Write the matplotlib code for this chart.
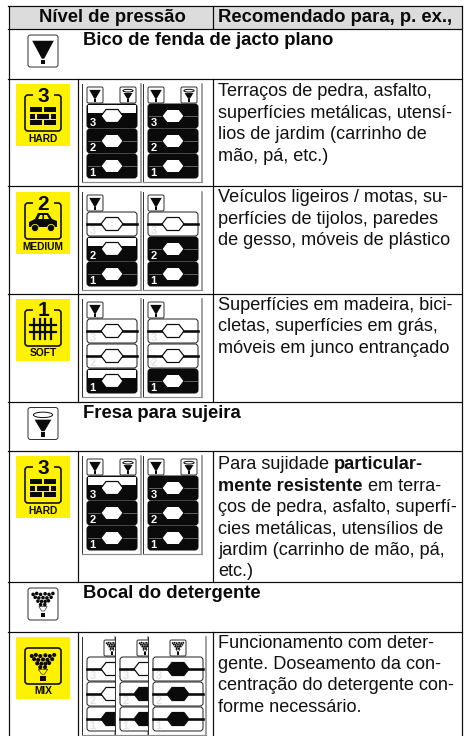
import matplotlib
matplotlib.use("Agg")
import matplotlib.pyplot as plt
from matplotlib.patches import Rectangle, FancyBboxPatch, Polygon, Circle, Ellipse

plt.rcParams['font.family'] = ['Liberation Sans', 'DejaVu Sans']

# table layout, in pixels of the page
W, H = 465, 736
row_edges = [5.5, 29, 79, 186, 294, 401.5, 451, 582, 632, 736]
col_x = [9, 77.5, 213, 462]

header = ["Nível de pressão", "Recomendado para, p. ex.,"]

# section rows: top of row, title, icon
section_tops = [29, 401.5, 582]
section_titles = ["Bico de fenda de jacto plano", "Fresa para sujeira", "Bocal do detergente"]
section_kinds = ["jet", "rotor", "spray"]

# level rows
level_tops = [84, 192, 299, 456, 637]
level_numbers = ["3", "2", "1", "3", ""]
level_names = ["HARD", "MEDIUM", "SOFT", "HARD", "MIX"]
level_art = ["wall", "car", "fence", "wall", "spray"]

# state of the three bars in each small panel, top to bottom
# e = empty, h = half filled, f = full black, s = solid nozzle
panel_states = [
    [["h", "f", "f"], ["f", "f", "f"]],
    [["e", "h", "f"], ["e", "f", "f"]],
    [["e", "e", "h"], ["e", "e", "f"]],
    [["h", "f", "f"], ["f", "f", "f"]],
    [["e", "e", "s"], ["e", "s", "s"], ["s", "s", "s"]],
]

# description text, each line as (text, bold) pieces; first baseline of each block
desc_tops = [96.5, 202.5, 310, 469.3, 647.5]
desc_lines = [
    [[("Terraços de pedra, asfalto,", 0)], [("superfícies metálicas, utensí-", 0)],
     [("lios de jardim (carrinho de", 0)], [("mão, pá, etc.)", 0)]],
    [[("Veículos ligeiros / motas, su-", 0)], [("perfícies de tijolos, paredes", 0)],
     [("de gesso, móveis de plástico", 0)]],
    [[("Superfícies em madeira, bici-", 0)], [("cletas, superfícies em grás,", 0)],
     [("móveis em junco entrançado", 0)]],
    [[("Para sujidade ", 0), ("particular-", 1)], [("mente resistente", 1), (" em terra-", 0)],
     [("ços de pedra, asfalto, superfí-", 0)], [("cies metálicas, utensílios de", 0)],
     [("jardim (carrinho de mão, pá,", 0)], [("etc.)", 0)]],
    [[("Funcionamento com deter-", 0)], [("gente. Doseamento da con-", 0)],
     [("centração do detergente con-", 0)], [("forme necessário.", 0)]],
]

YELLOW = "#fff200"
BLACK = "#0a0a0a"
GREY = "#8c8c8c"
BODY_SIZE = 13.1

# spray dots in unit coordinates of the symbol
spray_dots = [(0.17, 0.2), (0.29, 0.17), (0.42, 0.2), (0.57, 0.18), (0.7, 0.2), (0.83, 0.17),
              (0.24, 0.29), (0.36, 0.31), (0.5, 0.3), (0.63, 0.31), (0.77, 0.29),
              (0.33, 0.41), (0.45, 0.42), (0.57, 0.42), (0.68, 0.4), (0.42, 0.52), (0.56, 0.52)]


def px(w):
    return w * 0.72


fig = plt.figure(figsize=(W / 100, H / 100), dpi=100)
ax = fig.add_axes([0, 0, 1, 1])
ax.set_xlim(0, W)
ax.set_ylim(H, 0)
ax.axis("off")


def round_box(x, y, w, h, r, fc, ec, lw=1.0, z=2):
    p = FancyBboxPatch((x + r, y + r), w - 2 * r, h - 2 * r, boxstyle="round,pad=%f,rounding_size=%f" % (r, r),
                       fc=fc, ec=ec, lw=px(lw), zorder=z)
    ax.add_patch(p)
    return p


def nozzle_symbol(x, y, w, h, kind, z=3, color=BLACK):
    def X(u):
        return x + u * w

    def Y(v):
        return y + v * h

    if kind == "jet":
        ax.add_patch(Polygon([(X(0.14), Y(0.18)), (X(0.86), Y(0.18)), (X(0.54), Y(0.74)), (X(0.46), Y(0.74))],
                             fc=color, ec="none", zorder=z))
        ax.add_patch(Rectangle((X(0.43), Y(0.77)), 0.14 * w, 0.14 * h, fc=color, ec="none", zorder=z))
    elif kind == "rotor":
        ax.add_patch(Polygon([(X(0.22), Y(0.38)), (X(0.78), Y(0.38)), (X(0.55), Y(0.74)), (X(0.45), Y(0.74))],
                             fc=color, ec="none", zorder=z))
        ax.add_patch(Rectangle((X(0.43), Y(0.77)), 0.14 * w, 0.14 * h, fc=color, ec="none", zorder=z))
        ax.add_patch(Ellipse((X(0.5), Y(0.23)), 0.64 * w, 0.17 * h, fc="none", ec=color, lw=0.7, zorder=z))
    else:
        for u, v in spray_dots:
            ax.add_patch(Circle((X(u), Y(v)), 0.06 * w, fc=color, ec="none", zorder=z))
        ax.add_patch(Polygon([(X(0.36), Y(0.58)), (X(0.64), Y(0.58)), (X(0.54), Y(0.72)), (X(0.46), Y(0.72))],
                             fc="none", ec=color, lw=0.4, zorder=z))
        ax.add_patch(Rectangle((X(0.42), Y(0.77)), 0.16 * w, 0.14 * h, fc=color, ec="none", zorder=z))


def nozzle_icon(x, y, w, h, kind, z=3):
    round_box(x, y, w, h, 2.5 if w > 20 else 1.5, "white", "#333333", 1.0, z)
    nozzle_symbol(x, y, w, h, kind, z + 0.1)


def level_bar(x, y, w, h, state, digit, z=3):
    mid = y + h / 2
    hex_pts = [(x + 14, mid), (x + 19, mid - 6.5), (x + 31, mid - 6.5), (x + 36, mid),
               (x + 31, mid + 6.5), (x + 19, mid + 6.5)]
    if state == "f":
        round_box(x, y, w, h, 3, BLACK, BLACK, 1.0, z)
        ax.plot([x + 1, x + w - 1], [mid, mid], color="#777777", lw=px(0.8), zorder=z + 0.1)
        ax.add_patch(Polygon(hex_pts, fc="white", ec=BLACK, lw=px(1), zorder=z + 0.2))
        tc = "white"
    elif state == "h":
        round_box(x, y, w, h, 3, BLACK, BLACK, 1.0, z)
        ax.add_patch(Rectangle((x + 0.8, y + 0.8), w - 1.6, h * 0.36, fc="white", ec="none", zorder=z + 0.05))
        ax.add_patch(Polygon(hex_pts, fc="white", ec=BLACK, lw=px(1.2), zorder=z + 0.2))
        tc = "white"
    else:
        round_box(x, y, w, h, 3, "white", "#222222", 1.0, z)
        ax.plot([x, x + w], [mid, mid], color=BLACK, lw=px(2.6), zorder=z + 0.1)
        fc = BLACK if state == "s" else "white"
        ax.add_patch(Polygon(hex_pts, fc=fc, ec=BLACK, lw=px(1.2), zorder=z + 0.2))
        tc = "#e4e4e4"
    ax.text(x + 5.5, y + h - 5, digit, color=tc, fontsize=8, fontweight="bold", ha="center", va="center",
            zorder=z + 0.3)


def panel(x, top, width, states, icons, icon_dx, bar_dx, z=3):
    bottom = top + 98
    ax.add_patch(Rectangle((x, top), width, 98, fc="white", ec="none", zorder=z - 0.5))
    ax.plot([x, x], [top, bottom], color="#333333", lw=px(1), zorder=z)
    ax.plot([x + width, x + width], [top, bottom], color=GREY, lw=px(1.6), zorder=z)
    ax.plot([x, x + width], [bottom, bottom], color=GREY, lw=px(1.2), zorder=z)
    for kind, dx in zip(icons, icon_dx):
        nozzle_icon(x + dx, top + 3, 16, 16, kind, z)
    for i, st in enumerate(states):
        level_bar(x + bar_dx, top + 20 + i * 25, 50, 24, st, str(3 - i), z)


def yellow_icon(top, number, name, art):
    x, w = 16, 54
    ax.add_patch(Rectangle((x, top), w, 62, fc=YELLOW, ec="none", zorder=2))
    fx0, fx1, fy0, fy1 = 25, 61, top + 11, top + 47
    round_box(fx0, fy0, fx1 - fx0, fy1 - fy0, 3, "none", BLACK, 1.6, 3)
    if number:
        ax.add_patch(Rectangle((33, fy0 - 2), 21, 4, fc=YELLOW, ec="none", zorder=3.1))
        ax.text(43, fy0 + 1, number, fontsize=15, fontweight="bold", ha="center", va="center", color=BLACK,
                zorder=3.2)
    if art == "wall":
        for r, offs in enumerate([[(30, 12), (44, 12)], [(30, 5), (37, 12), (51, 5)], [(30, 12), (44, 12)]]):
            for bx, bw in offs:
                ax.add_patch(Rectangle((bx, fy0 + 12 + r * 6.5), bw, 5, fc=BLACK, ec="none", zorder=3.2))
    elif art == "car":
        car = [(29, fy0 + 24), (29, fy0 + 19), (35, fy0 + 16), (38, fy0 + 10), (48, fy0 + 10), (52, fy0 + 16),
               (57, fy0 + 18), (57, fy0 + 24)]
        ax.add_patch(Polygon(car, fc=BLACK, ec="none", zorder=3.2))
        ax.add_patch(Polygon([(38, fy0 + 16), (40, fy0 + 12), (42.5, fy0 + 12), (42.5, fy0 + 16)], fc=YELLOW,
                             ec="none", zorder=3.3))
        ax.add_patch(Polygon([(44, fy0 + 16), (44, fy0 + 12), (47, fy0 + 12), (49, fy0 + 16)], fc=YELLOW, ec="none",
                             zorder=3.3))
        for cx in (35, 51):
            ax.add_patch(Circle((cx, fy0 + 25), 3.6, fc=BLACK, ec=YELLOW, lw=0.6, zorder=3.4))
    elif art == "fence":
        for fx in (34, 39.5, 45, 50.5):
            ax.plot([fx, fx], [fy0 + 9, fy0 + 29], color=BLACK, lw=px(2.2), zorder=3.2)
        for fy in (fy0 + 15, fy0 + 22):
            ax.plot([30, 56], [fy, fy], color=BLACK, lw=px(2.2), zorder=3.2)
    else:
        nozzle_symbol(26, fy0 + 1, 34, 35, "spray", 3.2)
    ax.text(43, top + 54.5, name, fontsize=7.4, fontweight="bold", ha="center", va="center", color=BLACK, zorder=3.2)


# header band
ax.add_patch(Rectangle((col_x[0], row_edges[0]), col_x[3] - col_x[0], row_edges[1] - row_edges[0], fc="#dcdcdc",
                       ec="none", zorder=1))
ax.text(112.5, 22, header[0], fontsize=13.3, fontweight="bold", ha="center", va="baseline", color=BLACK, zorder=5)
ax.text(218, 22, header[1], fontsize=13.3, fontweight="bold", ha="left", va="baseline", color=BLACK, zorder=5)

# grid lines
for y in row_edges[:-1]:
    ax.plot([col_x[0] - 1, col_x[3]], [y, y], color=BLACK, lw=px(1.2), zorder=4)
for x in (col_x[0], col_x[3]):
    ax.plot([x, x], [row_edges[0], row_edges[-1]], color=BLACK, lw=px(1.2), zorder=4)
ax.plot([col_x[2], col_x[2]], [row_edges[0], row_edges[1]], color=BLACK, lw=px(1.2), zorder=4)
for top, bottom in [(row_edges[2], row_edges[5]), (row_edges[6], row_edges[7]), (row_edges[8], row_edges[9])]:
    for x in col_x[1:3]:
        ax.plot([x, x], [top, bottom], color=BLACK, lw=px(1.2), zorder=4)

# section rows
for top, title, kind in zip(section_tops, section_titles, section_kinds):
    nozzle_icon(28, top + 6, 30, 32, kind)
    ax.text(83, top + 16, title, fontsize=13.3, fontweight="bold", ha="left", va="baseline", color=BLACK, zorder=5)

# level rows
for top, number, name, art, states in zip(level_tops, level_numbers, level_names, level_art, panel_states):
    yellow_icon(top, number, name, art)
    if art == "spray":
        for i, st in enumerate(states):
            panel(82 + 33 * i, top, 33 if i < 2 else 58, st, ["spray"], [22], 5, z=3 + i)
    else:
        icons = ["jet", "rotor"] if art == "wall" else ["jet"]
        panel(82, top, 59, states[0], icons, [5, 38], 5)
        panel(143, top, 59, states[1], icons, [5, 38], 5)

# description text, bold and normal pieces placed one after the other
fig.canvas.draw()
rend = fig.canvas.get_renderer()


def advance(s, weight):
    a = ax.text(0, 0, s + "|", fontsize=BODY_SIZE, fontweight=weight)
    b = ax.text(0, 0, "|", fontsize=BODY_SIZE, fontweight=weight)
    d = a.get_window_extent(rend).width - b.get_window_extent(rend).width
    a.remove()
    b.remove()
    return d


for top, lines in zip(desc_tops, desc_lines):
    for i, pieces in enumerate(lines):
        x = 218
        for s, bold in pieces:
            weight = "bold" if bold else "normal"
            ax.text(x, top + i * 21.4, s, fontsize=BODY_SIZE, fontweight=weight, ha="left", va="baseline",
                    color="#111111", zorder=5)
            x += advance(s, weight)

fig.savefig("out.png", dpi=100)
